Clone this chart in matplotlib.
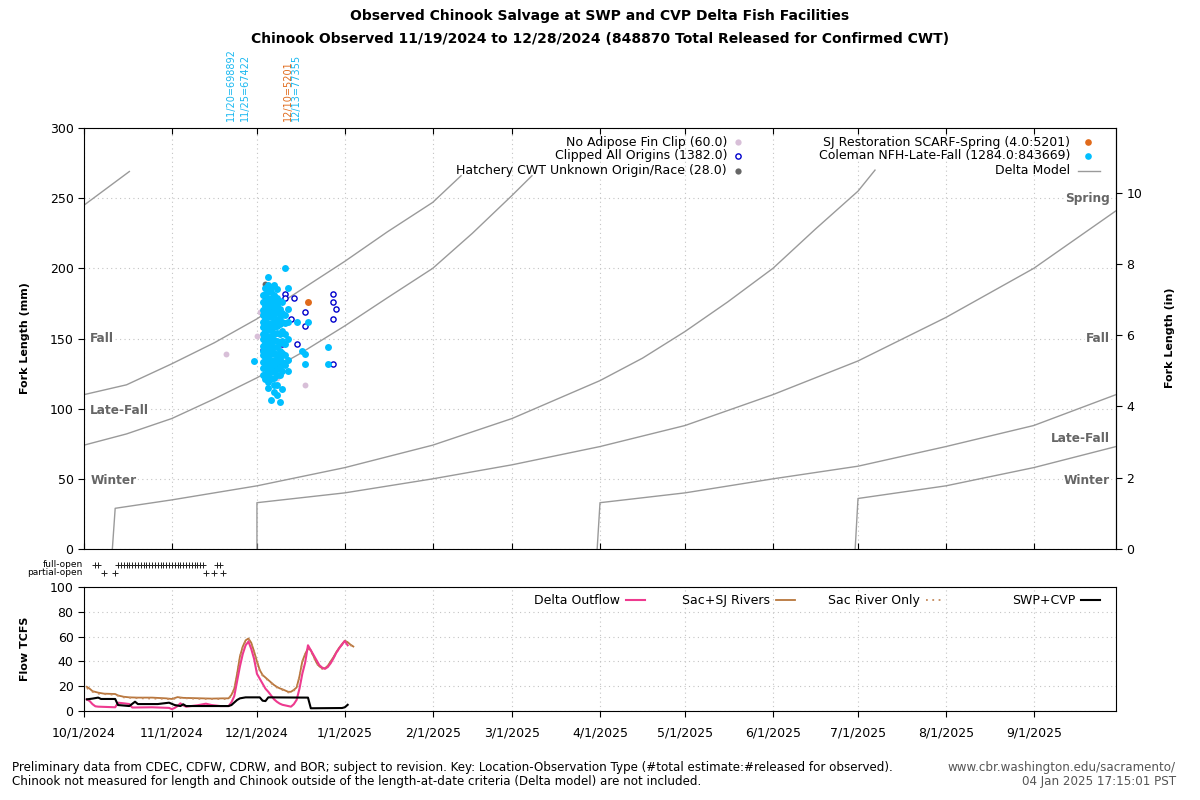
import numpy as np
import pandas as pd
import matplotlib
matplotlib.use('Agg')
import matplotlib.pyplot as plt
import matplotlib.dates as mdates
import matplotlib.transforms as mtransforms

plt.rcParams['font.family'] = ['DejaVu Sans']

# ---- Delta model length-at-date curves (mm) ----
spring_prev = [('2024-10-01', 245), ('2024-10-09', 257), ('2024-10-17', 269)]
fall_prev = [('2024-10-01', 110), ('2024-10-16', 117), ('2024-11-01', 132), ('2024-11-16', 147),
             ('2024-12-01', 164), ('2024-12-16', 184), ('2025-01-01', 205), ('2025-01-16', 226),
             ('2025-02-01', 247), ('2025-02-11', 266)]
latefall_prev = [('2024-10-01', 74), ('2024-10-16', 82), ('2024-11-01', 93), ('2024-11-16', 107),
                 ('2024-12-01', 122), ('2024-12-16', 139), ('2025-01-01', 159), ('2025-01-16', 179),
                 ('2025-02-01', 200), ('2025-02-15', 225), ('2025-03-01', 252), ('2025-03-08', 266)]
winter_curve = [('2024-10-11', 0), ('2024-10-12', 29), ('2024-11-01', 35), ('2024-12-01', 45),
                ('2025-01-01', 58), ('2025-02-01', 74), ('2025-03-01', 93), ('2025-04-01', 120),
                ('2025-04-16', 136), ('2025-05-01', 155), ('2025-05-16', 176), ('2025-06-01', 200),
                ('2025-06-16', 228), ('2025-07-01', 255), ('2025-07-07', 270)]
spring_curve = [('2024-12-01', 0), ('2024-12-01', 33), ('2025-01-01', 40), ('2025-02-01', 50),
                ('2025-03-01', 60), ('2025-04-01', 73), ('2025-05-01', 88), ('2025-06-01', 110),
                ('2025-07-01', 134), ('2025-08-01', 165), ('2025-09-01', 200), ('2025-09-30', 241)]
fall_curve = [('2025-03-31', 0), ('2025-04-01', 33), ('2025-05-01', 40), ('2025-06-01', 50),
              ('2025-07-01', 59), ('2025-08-01', 73), ('2025-09-01', 88), ('2025-09-30', 110)]
latefall_curve = [('2025-06-30', 0), ('2025-07-01', 36), ('2025-08-01', 45), ('2025-09-01', 58),
                  ('2025-09-30', 73)]

# ---- salvage observations (date, fork length mm) ----
no_adipose = [('2024-11-20', 139), ('2024-12-01', 152), ('2024-12-02', 169),
              ('2024-12-08', 122), ('2024-12-18', 117)]
clipped = [('2024-12-03', 142), ('2024-12-10', 146), ('2024-12-11', 182), ('2024-12-11', 179),
           ('2024-12-13', 164), ('2024-12-14', 179), ('2024-12-15', 146), ('2024-12-18', 169),
           ('2024-12-18', 159), ('2024-12-28', 182), ('2024-12-28', 176), ('2024-12-29', 171),
           ('2024-12-28', 164), ('2024-12-28', 132)]
hatchery_unknown = [('2024-12-04', 189), ('2024-12-04', 179), ('2024-12-12', 135)]
sj_scarf = [('2024-12-19', 176)]
coleman_days = ['2024-11-30', '2024-12-03', '2024-12-04', '2024-12-05', '2024-12-06', '2024-12-07',
                '2024-12-08', '2024-12-09', '2024-12-10', '2024-12-11', '2024-12-12', '2024-12-15',
                '2024-12-17', '2024-12-18', '2024-12-19', '2024-12-26']
coleman_mm = [
    [134],
    [124, 129, 133, 138, 141, 145, 150, 153, 158, 162, 167, 170, 176, 181],
    [121, 125, 130, 134, 137, 142, 147, 151, 155, 160, 164, 168, 173, 177, 182, 186],
    [115, 119, 123, 127, 132, 136, 140, 145, 149, 152, 157, 161, 166, 171, 175, 179, 184, 188, 194],
    [106, 121, 126, 129, 134, 139, 143, 147, 152, 156, 160, 165, 169, 173, 178, 183, 187],
    [112, 117, 122, 127, 131, 135, 140, 144, 149, 153, 158, 162, 167, 172, 177, 181, 188],
    [110, 117, 124, 128, 133, 138, 144, 148, 154, 159, 163, 169, 174, 179, 185],
    [105, 124, 130, 136, 141, 147, 153, 160, 165, 171, 177],
    [114, 127, 133, 140, 148, 155, 162, 168, 176],
    [131, 138, 146, 153, 161, 167, 200],
    [127, 135, 150, 162, 171, 186],
    [162],
    [141],
    [132, 139],
    [162],
    [132, 144],
]

# CWT release annotations above the plot
release_dates = ['2024-11-20', '2024-11-25', '2024-12-10', '2024-12-13']
release_labels = ['11/20=698892', '11/25=67422', '12/10=5201', '12/13=77355']
release_colors = ['#1ab8f0', '#1ab8f0', '#e06a1b', '#1ab8f0']

# export gate status
full_open_days = ['2024-10-05', '2024-10-06'] + \
    [d.strftime('%Y-%m-%d') for d in pd.date_range('2024-10-13', '2024-11-12')] + \
    ['2024-11-17', '2024-11-18']
partial_open_days = ['2024-10-08', '2024-10-12', '2024-11-13', '2024-11-16', '2024-11-19']

# ---- flows (TCFS) ----
delta_outflow = [('2024-10-02', 9.4), ('2024-10-03', 8), ('2024-10-04', 5.5), ('2024-10-05', 3.8),
                 ('2024-10-06', 3.5), ('2024-10-12', 3), ('2024-10-13', 6.7), ('2024-10-15', 6.2),
                 ('2024-10-17', 5.6), ('2024-10-18', 2.8), ('2024-10-25', 3), ('2024-10-31', 2.5),
                 ('2024-11-01', 1.5), ('2024-11-02', 2.5), ('2024-11-03', 4), ('2024-11-04', 6.2),
                 ('2024-11-05', 4.5), ('2024-11-06', 3.5), ('2024-11-10', 4.6), ('2024-11-13', 5.9),
                 ('2024-11-15', 4.8), ('2024-11-18', 4), ('2024-11-21', 4), ('2024-11-22', 7),
                 ('2024-11-23', 12), ('2024-11-24', 24), ('2024-11-25', 36), ('2024-11-26', 46),
                 ('2024-11-27', 53), ('2024-11-28', 56), ('2024-11-29', 50), ('2024-11-30', 42),
                 ('2024-12-01', 30), ('2024-12-02', 26), ('2024-12-03', 22), ('2024-12-04', 18),
                 ('2024-12-05', 15.5), ('2024-12-06', 12.5), ('2024-12-07', 9.5), ('2024-12-08', 7.5),
                 ('2024-12-09', 6), ('2024-12-10', 5), ('2024-12-11', 4.5), ('2024-12-12', 4),
                 ('2024-12-13', 3.5), ('2024-12-14', 5.5), ('2024-12-15', 9), ('2024-12-16', 18),
                 ('2024-12-17', 30), ('2024-12-18', 39), ('2024-12-19', 53), ('2024-12-20', 49),
                 ('2024-12-21', 45), ('2024-12-22', 41), ('2024-12-23', 37), ('2024-12-24', 35),
                 ('2024-12-25', 34), ('2024-12-26', 35.5), ('2024-12-27', 38.5), ('2024-12-28', 42.5),
                 ('2024-12-29', 47), ('2024-12-30', 50.5), ('2024-12-31', 53.5), ('2025-01-01', 56.5),
                 ('2025-01-02', 53)]
sac_sj = [('2024-10-02', 19.5), ('2024-10-03', 18), ('2024-10-04', 16), ('2024-10-06', 14.8),
          ('2024-10-08', 14), ('2024-10-12', 13.7), ('2024-10-13', 12.5), ('2024-10-15', 11.5),
          ('2024-10-17', 11), ('2024-10-20', 10.8), ('2024-10-25', 10.8), ('2024-10-30', 10.2),
          ('2024-11-01', 9.7), ('2024-11-03', 11.2), ('2024-11-05', 10.6), ('2024-11-10', 10.3),
          ('2024-11-15', 10), ('2024-11-19', 10.2), ('2024-11-21', 10.2), ('2024-11-22', 13),
          ('2024-11-23', 18), ('2024-11-24', 30), ('2024-11-25', 44), ('2024-11-26', 52),
          ('2024-11-27', 57), ('2024-11-28', 58.5), ('2024-11-29', 55), ('2024-11-30', 48),
          ('2024-12-01', 40), ('2024-12-02', 33), ('2024-12-03', 29), ('2024-12-04', 27),
          ('2024-12-05', 25), ('2024-12-06', 23), ('2024-12-07', 21), ('2024-12-08', 19.5),
          ('2024-12-09', 18.3), ('2024-12-10', 17.5), ('2024-12-11', 16.5), ('2024-12-12', 15.5),
          ('2024-12-13', 15.5), ('2024-12-14', 17), ('2024-12-15', 19), ('2024-12-16', 28),
          ('2024-12-17', 40), ('2024-12-18', 46), ('2024-12-19', 50.5), ('2024-12-20', 49),
          ('2024-12-21', 44), ('2024-12-22', 39), ('2024-12-23', 36), ('2024-12-24', 34.5),
          ('2024-12-25', 34.5), ('2024-12-26', 36.5), ('2024-12-27', 40), ('2024-12-28', 43.5),
          ('2024-12-29', 47.5), ('2024-12-30', 51), ('2024-12-31', 54), ('2025-01-01', 56.7),
          ('2025-01-02', 55.5), ('2025-01-03', 53.5), ('2025-01-04', 52)]
sac_only = [('2024-10-02', 18.5), ('2024-10-04', 15.5), ('2024-10-06', 14), ('2024-10-12', 13),
            ('2024-10-15', 11), ('2024-10-20', 10.3), ('2024-10-30', 9.8), ('2024-11-01', 9.3),
            ('2024-11-03', 10.6), ('2024-11-10', 9.8), ('2024-11-19', 9.6), ('2024-11-21', 9.8),
            ('2024-11-22', 12.5), ('2024-11-23', 17.5), ('2024-11-24', 29.5), ('2024-11-25', 43.5),
            ('2024-11-26', 51.5), ('2024-11-27', 56.5), ('2024-11-28', 58), ('2024-11-29', 54.5),
            ('2024-11-30', 47.5), ('2024-12-01', 39.5), ('2024-12-02', 32.5), ('2024-12-03', 28.5),
            ('2024-12-04', 26.5), ('2024-12-05', 24.5), ('2024-12-06', 22.5), ('2024-12-07', 20.5),
            ('2024-12-08', 19), ('2024-12-09', 17.8), ('2024-12-10', 17), ('2024-12-11', 16),
            ('2024-12-12', 15), ('2024-12-13', 15), ('2024-12-14', 16.5), ('2024-12-15', 18.5),
            ('2024-12-16', 27.5), ('2024-12-17', 39.5), ('2024-12-18', 45.5), ('2024-12-19', 50),
            ('2024-12-20', 48.5), ('2024-12-21', 43.5), ('2024-12-22', 38.5), ('2024-12-23', 35.5),
            ('2024-12-24', 34), ('2024-12-25', 34), ('2024-12-26', 36), ('2024-12-27', 39.5),
            ('2024-12-28', 43), ('2024-12-29', 47), ('2024-12-30', 50.5), ('2024-12-31', 53.5),
            ('2025-01-01', 56.2), ('2025-01-02', 55), ('2025-01-03', 53), ('2025-01-04', 52)]
swp_cvp = [('2024-10-02', 9.4), ('2024-10-04', 10), ('2024-10-06', 10.8), ('2024-10-07', 9.7),
           ('2024-10-12', 9.7), ('2024-10-13', 4.8), ('2024-10-17', 4), ('2024-10-19', 7.5),
           ('2024-10-20', 5.6), ('2024-10-27', 5.6), ('2024-10-31', 6.7), ('2024-11-02', 4.8),
           ('2024-11-04', 4), ('2024-11-05', 5.4), ('2024-11-06', 4), ('2024-11-21', 4),
           ('2024-11-22', 4.8), ('2024-11-24', 8.9), ('2024-11-25', 10.2), ('2024-11-27', 11),
           ('2024-12-02', 11), ('2024-12-03', 8.3), ('2024-12-04', 8), ('2024-12-05', 11),
           ('2024-12-19', 10.8), ('2024-12-20', 2.2), ('2024-12-31', 2.4), ('2025-01-01', 3),
           ('2025-01-02', 5)]


def unzip(pairs):
    d, v = zip(*pairs)
    return pd.to_datetime(list(d)), list(v)


fig = plt.figure(figsize=(12, 8), dpi=100)
ax = fig.add_axes([0.07, 0.31375, 0.86, 0.52625])
ax2 = fig.add_axes([0.07, 0.11125, 0.86, 0.155], sharex=ax)

grid_kw = dict(color='#c4c4c4', linestyle=(0, (1, 3)), linewidth=0.8)
xlo, xhi = pd.Timestamp('2024-10-01'), pd.Timestamp('2025-09-30')

# delta model
for curve in [spring_prev, fall_prev, latefall_prev, winter_curve, spring_curve, fall_curve, latefall_curve]:
    x, y = unzip(curve)
    ax.plot(x, y, color='#9a9a9a', lw=1.0, zorder=2)

# observations
x, y = unzip(no_adipose)
ax.scatter(x, y, s=18, color='#d8bfd8', zorder=3, linewidths=0)
x, y = unzip(clipped)
ax.scatter(x, y, s=14, facecolor='white', edgecolor='#0000cc', linewidths=1.0, zorder=3)
x, y = unzip(hatchery_unknown)
ax.scatter(x, y, s=18, color='#666666', zorder=3, linewidths=0)
x, y = unzip(sj_scarf)
ax.scatter(x, y, s=25, color='#e06a1b', zorder=4, linewidths=0)
cx, cy = [], []
for d, vals in zip(coleman_days, coleman_mm):
    cx += [pd.Timestamp(d)] * len(vals)
    cy += vals
ax.scatter(cx, cy, s=25, color='#00bfff', zorder=4, linewidths=0)

ax.set_xlim(xlo, xhi)
ax.set_ylim(0, 300)
ax.set_yticks(range(0, 301, 50))
ax.xaxis.set_major_locator(mdates.MonthLocator())
ax.grid(True, **grid_kw)
ax.set_axisbelow(True)
ax.tick_params(axis='x', direction='in', top=True, bottom=True, labelbottom=False, length=4)
ax.tick_params(axis='y', direction='out', labelsize=9, length=4)

sec = ax.secondary_yaxis('right', functions=(lambda v: v / 25.4, lambda v: v * 25.4))
sec.set_yticks([0, 2, 4, 6, 8, 10])
sec.tick_params(direction='out', labelsize=9, length=4)

# race labels
tr = mtransforms.blended_transform_factory(ax.transAxes, ax.transData)
lab_kw = dict(fontsize=8.7, fontweight='bold', color='#666666', va='center', transform=tr,
              bbox=dict(facecolor='white', edgecolor='none', pad=0.5), zorder=5)
for name, mm in [('Fall', 150), ('Late-Fall', 99), ('Winter', 49)]:
    ax.text(0.006, mm, name, ha='left', **lab_kw)
for name, mm in [('Spring', 249.5), ('Fall', 150), ('Late-Fall', 79), ('Winter', 49)]:
    ax.text(0.994, mm, name, ha='right', **lab_kw)

# legend (text then key, like the original)
leg_fs = 9
rows = [0.9667, 0.9335, 0.8979]
col1 = [('No Adipose Fin Clip (60.0)', dict(marker='o', ms=4.5, color='#d8bfd8', mec='none')),
        ('Clipped All Origins (1382.0)', dict(marker='o', ms=3.8, mfc='white', mec='#0000cc', mew=1.0)),
        ('Hatchery CWT Unknown Origin/Race (28.0)', dict(marker='o', ms=4.5, color='#666666', mec='none'))]
for (txt, mk), yy in zip(col1, rows):
    ax.text(0.6231, yy, txt, ha='right', va='center', fontsize=leg_fs, transform=ax.transAxes)
    ax.plot([0.6337], [yy], transform=ax.transAxes, linestyle='none', clip_on=False, **mk)
col2 = [('SJ Restoration SCARF-Spring (4.0:5201)', dict(marker='o', ms=4.8, color='#e06a1b', mec='none')),
        ('Coleman NFH-Late-Fall (1284.0:843669)', dict(marker='o', ms=4.8, color='#00bfff', mec='none'))]
for (txt, mk), yy in zip(col2, rows[:2]):
    ax.text(0.9554, yy, txt, ha='right', va='center', fontsize=leg_fs, transform=ax.transAxes)
    ax.plot([0.9729], [yy], transform=ax.transAxes, linestyle='none', clip_on=False, **mk)
ax.text(0.9554, rows[2], 'Delta Model', ha='right', va='center', fontsize=leg_fs, transform=ax.transAxes)
ax.plot([0.9632, 0.9845], [rows[2], rows[2]], transform=ax.transAxes, color='#9a9a9a', lw=1.0)

# release annotations
trt = mtransforms.blended_transform_factory(ax.transData, ax.transAxes)
for d, txt, c in zip(release_dates, release_labels, release_colors):
    ax.text(pd.Timestamp(d), 1.017, txt, rotation=90, ha='left', va='bottom', fontsize=7,
            color=c, transform=trt, clip_on=False)

# gate status
fd = pd.to_datetime(full_open_days)
pdays = pd.to_datetime(partial_open_days)
ax.plot(fd, [-0.038] * len(fd), linestyle='none', marker='+', ms=4.5, mew=0.7, color='#222222',
        transform=trt, clip_on=False)
ax.plot(pdays, [-0.057] * len(pdays), linestyle='none', marker='+', ms=4.5, mew=0.7, color='#222222',
        transform=trt, clip_on=False)
ax.text(-0.001, -0.038, 'full-open', ha='right', va='center', fontsize=6.5, transform=ax.transAxes)
ax.text(-0.001, -0.057, 'partial-open', ha='right', va='center', fontsize=6.5, transform=ax.transAxes)

# ---- flow panel ----
x, y = unzip(delta_outflow)
ax2.plot(x, y, color='#ee3a8f', lw=1.5, zorder=3)
x, y = unzip(sac_sj)
ax2.plot(x, y, color='#b8763c', lw=1.3, zorder=2)
x, y = unzip(sac_only)
ax2.plot(x, y, color='#c58a5c', lw=1.3, linestyle=(0, (1, 2.5)), zorder=2)
x, y = unzip(swp_cvp)
ax2.plot(x, y, color='black', lw=1.5, zorder=4)

ax2.set_ylim(0, 100)
ax2.set_yticks(range(0, 101, 20))
ax2.grid(True, **grid_kw)
ax2.set_axisbelow(True)
ax2.xaxis.set_major_locator(mdates.MonthLocator())
ax2.xaxis.set_major_formatter(plt.FuncFormatter(
    lambda v, p: '{d.month}/{d.day}/{d.year}'.format(d=mdates.num2date(v))))
ax2.tick_params(axis='x', direction='out', labelsize=9, length=4, pad=7.5)
ax2.tick_params(axis='y', direction='out', labelsize=9, length=4)

fl_y = 0.895
flow_leg = [('Delta Outflow', 0.5194, dict(color='#ee3a8f', lw=1.5)),
            ('Sac+SJ Rivers', 0.6647, dict(color='#b8763c', lw=1.3)),
            ('Sac River Only', 0.8101, dict(color='#c58a5c', lw=1.3, linestyle=(0, (1, 2.5)))),
            ('SWP+CVP', 0.9603, dict(color='black', lw=1.5))]
for txt, xr, st in flow_leg:
    ax2.text(xr, fl_y, txt, ha='right', va='center', fontsize=leg_fs, transform=ax2.transAxes)
    ax2.plot([xr + 0.0058, xr + 0.0242], [fl_y, fl_y], transform=ax2.transAxes, **st)

# axis labels
fig.text(25 / 1200, 1 - 338 / 800, 'Fork Length (mm)', rotation=90, ha='center', va='center',
         fontsize=8, fontweight='bold')
fig.text(1170 / 1200, 1 - 338 / 800, 'Fork Length (in)', rotation=90, ha='center', va='center',
         fontsize=8, fontweight='bold')
fig.text(25 / 1200, 1 - 649 / 800, 'Flow TCFS', rotation=90, ha='center', va='center',
         fontsize=8, fontweight='bold')

# titles
fig.text(0.5, 1 - 16 / 800, 'Observed Chinook Salvage at SWP and CVP Delta Fish Facilities',
         ha='center', va='center', fontsize=10, fontweight='bold')
fig.text(0.5, 1 - 39 / 800,
         'Chinook Observed 11/19/2024 to 12/28/2024 (848870 Total Released for Confirmed CWT)',
         ha='center', va='center', fontsize=10, fontweight='bold')

# footer
foot_fs = 8.6
fig.text(12 / 1200, 1 - 767 / 800,
         'Preliminary data from CDEC, CDFW, CDRW, and BOR; subject to revision. '
         'Key: Location-Observation Type (#total estimate:#released for observed).',
         ha='left', va='center', fontsize=foot_fs)
fig.text(12 / 1200, 1 - 782 / 800,
         'Chinook not measured for length and Chinook outside of the length-at-date criteria '
         '(Delta model) are not included.', ha='left', va='center', fontsize=foot_fs)
fig.text(1176 / 1200, 1 - 767 / 800, 'www.cbr.washington.edu/sacramento/', ha='right', va='center',
         fontsize=foot_fs, color='#555555')
fig.text(1176 / 1200, 1 - 782 / 800, '04 Jan 2025 17:15:01 PST', ha='right', va='center',
         fontsize=foot_fs, color='#555555')

fig.savefig('out.png', dpi=100)
